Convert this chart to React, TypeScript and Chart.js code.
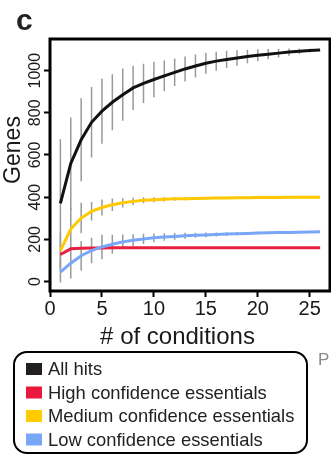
import React, { useEffect, useRef } from "react";
import { Chart, registerables } from "chart.js";

Chart.register(...registerables);

const FONT = '"Liberation Sans", Arial, Helvetica, sans-serif';

const panelLabel = "c";
const sideLabel = "P";
const xTitle = "# of conditions";
const yTitle = "Genes";

const conditions = [1, 2, 3, 4, 5, 6, 7, 8, 9, 10, 11, 12, 13, 14, 15, 16, 17, 18, 19, 20, 21, 22, 23, 24, 25, 26];
const xTicks = [0, 5, 10, 15, 20, 25];
const yTicks = [0, 200, 400, 600, 800, 1000];

const seriesNames = ["All hits", "High confidence essentials", "Medium confidence essentials", "Low confidence essentials"];
const lineColors = ["#111111", "#e8203f", "#ffc800", "#79a6f8"];
const legendColors = ["#231f20", "#e8193c", "#ffcc00", "#7aa6f8"];

const allHits = [370, 560, 672, 755, 808, 850, 886, 918, 940, 958, 975, 992, 1008, 1022, 1035, 1045, 1053, 1060, 1067, 1073, 1078, 1083, 1088, 1092, 1095, 1098];
const allHitsErr = [305, 218, 197, 167, 155, 133, 124, 105, 93, 84, 73, 65, 59, 54, 50, 45, 41, 37, 32, 28, 24, 21, 17, 13, 9, 0];

const highConf = [128, 155, 158, 159, 159, 160, 160, 160, 160, 160, 160, 160, 160, 160, 160, 160, 160, 160, 160, 160, 160, 160, 160, 160, 160, 160];

const mediumConf = [146, 249, 301, 333, 351, 364, 373, 380, 385, 388, 390, 392, 393, 394, 395, 396, 396, 397, 397, 398, 398, 398, 399, 399, 399, 400];
const mediumErr = [85, 100, 72, 44, 38, 30, 22, 17, 14, 12, 10, 9, 8, 7, 6, 5, 5, 4, 4, 3, 3, 2, 2, 1, 1, 0];

const lowConf = [45, 87, 122, 147, 164, 177, 188, 196, 202, 207, 211, 214, 217, 219, 221, 223, 225, 227, 228, 230, 231, 232, 233, 234, 235, 236];
const lowErr = [50, 73, 70, 60, 58, 45, 35, 28, 24, 21, 18, 16, 14, 12, 11, 10, 9, 8, 7, 6, 5, 4, 3, 2, 1, 0];

function points(values: number[]) {
  return conditions.map((x, i) => ({ x, y: values[i] }));
}

function errSegments(mean: number[], sd: number[]) {
  const out: { x: number; y: number | null }[] = [];
  conditions.forEach((x, i) => {
    if (sd[i] > 0) {
      out.push({ x, y: mean[i] - sd[i] }, { x, y: mean[i] + sd[i] }, { x, y: null });
    }
  });
  return out;
}

function roundRectPath(ctx: CanvasRenderingContext2D, x: number, y: number, w: number, h: number, r: number) {
  ctx.beginPath();
  ctx.moveTo(x + r, y);
  ctx.lineTo(x + w - r, y);
  ctx.arcTo(x + w, y, x + w, y + r, r);
  ctx.lineTo(x + w, y + h - r);
  ctx.arcTo(x + w, y + h, x + w - r, y + h, r);
  ctx.lineTo(x + r, y + h);
  ctx.arcTo(x, y + h, x, y + h - r, r);
  ctx.lineTo(x, y + r);
  ctx.arcTo(x, y, x + r, y, r);
  ctx.closePath();
}

const decorPlugin = {
  id: "decor",
  afterDraw(chart: any) {
    const { ctx, chartArea: a } = chart;
    ctx.save();
    // frame
    ctx.strokeStyle = "#000";
    ctx.lineWidth = 3;
    ctx.strokeRect(a.left, a.top, a.right - a.left, a.bottom - a.top);

    // panel label
    ctx.fillStyle = "#222";
    ctx.textAlign = "left";
    ctx.textBaseline = "alphabetic";
    ctx.font = `bold 30px ${FONT}`;
    ctx.fillText(panelLabel, 16, 30);

    // y title
    ctx.save();
    ctx.translate(20, 150);
    ctx.rotate(-Math.PI / 2);
    ctx.font = `23px ${FONT}`;
    ctx.textAlign = "center";
    ctx.textBaseline = "alphabetic";
    ctx.fillStyle = "#1a1a1a";
    ctx.fillText(yTitle, 0, 0);
    ctx.restore();

    // x title
    ctx.font = `24px ${FONT}`;
    ctx.textAlign = "center";
    ctx.fillStyle = "#1a1a1a";
    ctx.fillText(xTitle, 177.5, 344);

    // legend
    ctx.lineWidth = 2;
    ctx.strokeStyle = "#000";
    roundRectPath(ctx, 14, 352, 293, 101, 13);
    ctx.stroke();
    const items = chart.data.datasets.filter((d: any) => d.legendColor);
    ctx.font = `18.4px ${FONT}`;
    ctx.textAlign = "left";
    ctx.textBaseline = "middle";
    items.forEach((d: any, i: number) => {
      const cy = 369 + i * 23.5;
      ctx.fillStyle = d.legendColor;
      ctx.fillRect(26, cy - 6, 16, 12);
      ctx.fillStyle = "#222";
      ctx.fillText(d.label, 48, cy + 1);
    });

    // side label
    ctx.fillStyle = "#8a8a8a";
    ctx.font = `17px ${FONT}`;
    ctx.textBaseline = "alphabetic";
    ctx.fillText(sideLabel, 318, 365);
    ctx.restore();
  },
};

export default function App() {
  const ref = useRef<HTMLCanvasElement>(null);
  useEffect(() => {
    if (!ref.current) return;
    const lineDs = (i: number, values: number[], order: number) => ({
      type: "line",
      label: seriesNames[i],
      data: points(values),
      borderColor: lineColors[i],
      backgroundColor: lineColors[i],
      legendColor: legendColors[i],
      borderWidth: 3,
      pointRadius: 0,
      tension: 0,
      fill: false,
      order,
    });
    const errDs = (mean: number[], sd: number[]) => ({
      type: "line",
      label: "",
      data: errSegments(mean, sd),
      borderColor: "#9a9a9a",
      borderWidth: 1.5,
      pointRadius: 0,
      spanGaps: false,
      fill: false,
      order: 10,
    });
    const chart = new Chart(ref.current, {
      type: "line",
      data: {
        datasets: [
          lineDs(0, allHits, 4),
          lineDs(1, highConf, 3),
          lineDs(2, mediumConf, 2),
          lineDs(3, lowConf, 1),
          errDs(allHits, allHitsErr),
          errDs(mediumConf, mediumErr),
          errDs(lowConf, lowErr),
        ] as any,
      },
      options: {
        animation: false,
        responsive: false,
        devicePixelRatio: 1,
        layout: { padding: { left: 0, right: 1, top: 39, bottom: 134 } },
        plugins: { legend: { display: false }, tooltip: { enabled: false }, title: { display: false } },
        scales: {
          x: {
            type: "linear",
            min: 0,
            max: 26.95,
            afterBuildTicks: (s: any) => {
              s.ticks = xTicks.map((v) => ({ value: v }));
            },
            afterFit: (s: any) => {
              s.height = 30;
            },
            ticks: {
              font: { family: FONT, size: 20 },
              color: "#1a1a1a",
              padding: 0,
              maxRotation: 0,
              autoSkip: false,
              callback: (v: any) => String(v),
            },
            grid: { drawOnChartArea: false, drawTicks: true, tickLength: 6, tickWidth: 2, color: "#000" },
            border: { display: false },
          },
          y: {
            type: "linear",
            min: -45,
            max: 1150,
            afterBuildTicks: (s: any) => {
              s.ticks = yTicks.map((v) => ({ value: v }));
            },
            afterFit: (s: any) => {
              s.width = 50;
            },
            ticks: {
              font: { family: FONT, size: 16 },
              color: "#1a1a1a",
              minRotation: 90,
              maxRotation: 90,
              crossAlign: "center",
              padding: -9,
              autoSkip: false,
              callback: (v: any) => String(v),
            },
            grid: { drawOnChartArea: false, drawTicks: true, tickLength: 6, tickWidth: 2, color: "#000" },
            border: { display: false },
          },
        },
      } as any,
      plugins: [decorPlugin],
    });
    return () => chart.destroy();
  }, []);
  return (
    <div style={{ position: "absolute", left: 0, top: 0, width: 331, height: 455, background: "#fff" }}>
      <canvas ref={ref} width={331} height={455} style={{ display: "block", width: 331, height: 455 }} />
    </div>
  );
}
